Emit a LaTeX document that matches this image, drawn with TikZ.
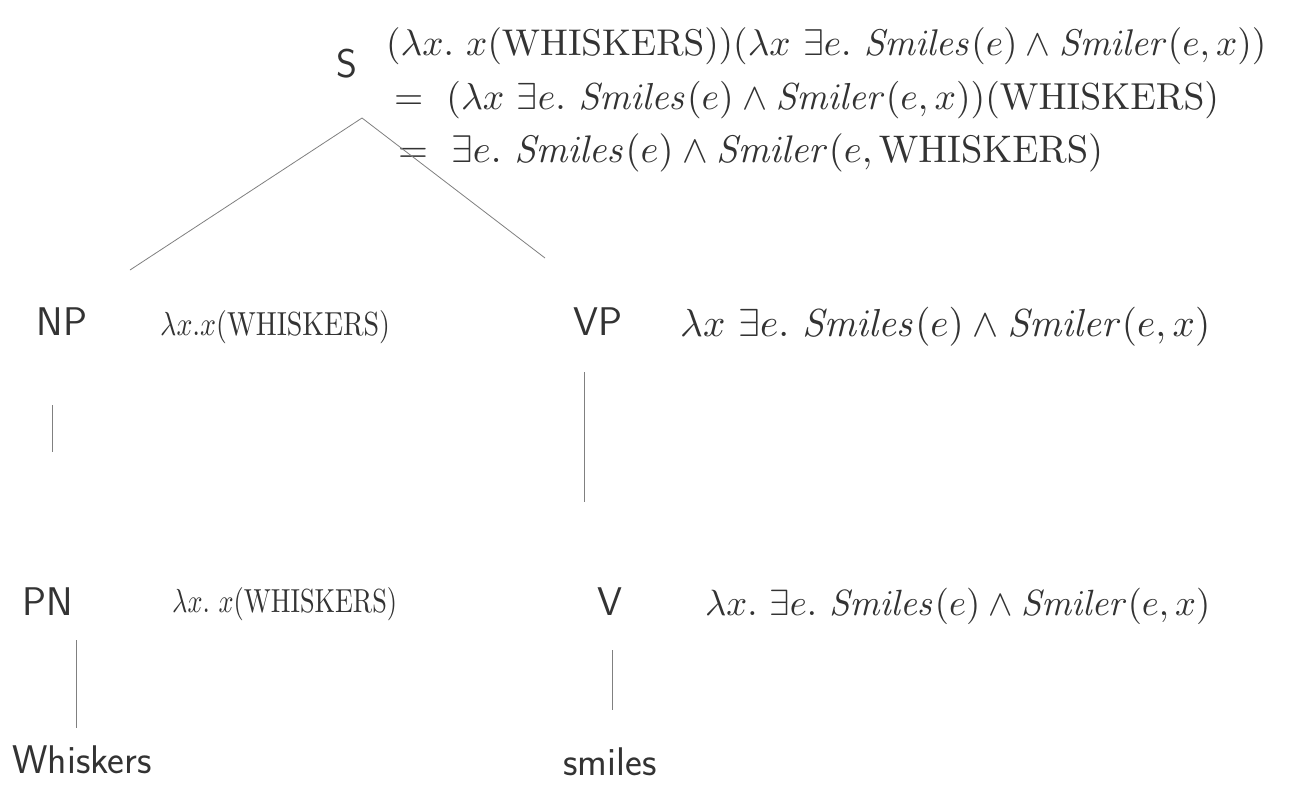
\documentclass[tikz,border=0pt]{standalone}
\usepackage{amsmath}
\begin{document}
\begin{tikzpicture}[x=1pt,y=-1pt,
  ink/.style={text=black!80},
  lab/.style={ink,font=\fontsize{40}{44}\selectfont\sffamily, inner sep=0pt},
  frm/.style={ink,anchor=west,inner sep=0pt},
  branch/.style={draw=black!50,line width=0.8pt}]
\useasboundingbox (0,0) rectangle (1293,785);
\fill[white] (0,0) rectangle (1293,785);
% top formulas
\node[frm] (f1) at (386,46) {\resizebox{880pt}{!}{$(\lambda x.\ x(\mathrm{WHISKERS}))(\lambda x\ \exists e.\ \mathit{Smiles}(e)\wedge \mathit{Smiler}(e,x))$}};
\node[frm] (f2) at (394,100) {\resizebox{825pt}{!}{$=\ (\lambda x\ \exists e.\ \mathit{Smiles}(e)\wedge \mathit{Smiler}(e,x))(\mathrm{WHISKERS})$}};
\node[frm] (f3) at (398,153) {\resizebox{705pt}{!}{$=\ \exists e.\ \mathit{Smiles}(e)\wedge \mathit{Smiler}(e,\mathrm{WHISKERS})$}};
% tree labels
\node[lab] (s) at (347,64) {S};
\node[lab] (np) at (62,322) {NP};
\node[lab] (vp) at (598,322) {VP};
\node[lab] (pn) at (48,602) {PN};
\node[lab] (v) at (610,602) {V};
\node[lab] (w) at (82,760) {Whiskers};
\node[lab] (sm) at (610,762) {smiles};
% semantic labels
\node[frm] (npf) at (160,327) {\resizebox{230pt}{25pt}{$\lambda x.x(\mathrm{WHISKERS})$}};
\node[frm] (vpf) at (680,327) {\resizebox{530pt}{!}{$\lambda x\ \exists e.\ \mathit{Smiles}(e)\wedge \mathit{Smiler}(e,x)$}};
\node[frm] (pnf) at (172,604) {\resizebox{225pt}{25pt}{$\lambda x.\ x(\mathrm{WHISKERS})$}};
\node[frm] (vf) at (705,606) {\resizebox{505pt}{!}{$\lambda x.\ \exists e.\ \mathit{Smiles}(e)\wedge \mathit{Smiler}(e,x)$}};
% connector end points
\coordinate (sA) at (362,118);
\coordinate (npA) at (130,270);
\coordinate (vpA) at (545,258);
\coordinate (npB) at (52,405);
\coordinate (pnA) at (52,452);
\coordinate (vpB) at (584,372);
\coordinate (vA) at (584,502);
\coordinate (pnB) at (76,640);
\coordinate (wA) at (76,728);
\coordinate (vB) at (612,650);
\coordinate (smA) at (612,710);
\draw[branch] (sA) -- (npA);
\draw[branch] (sA) -- (vpA);
\draw[branch] (npB) -- (pnA);
\draw[branch] (vpB) -- (vA);
\draw[branch] (pnB) -- (wA);
\draw[branch] (vB) -- (smA);
\end{tikzpicture}
\end{document}
